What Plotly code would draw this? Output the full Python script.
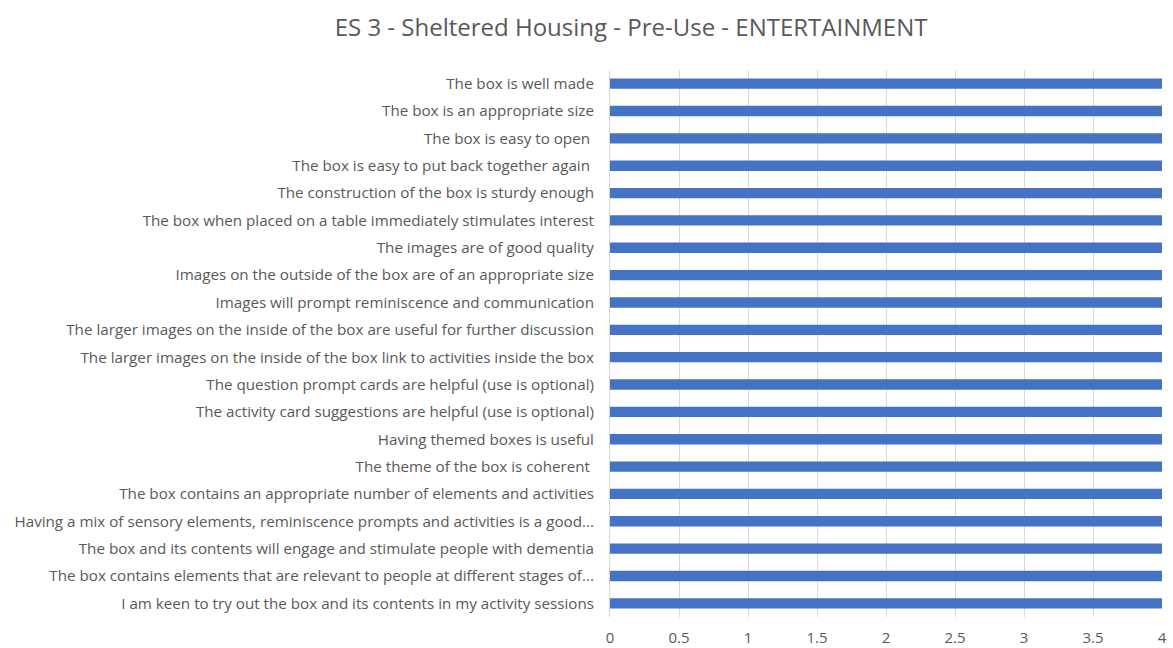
import plotly.graph_objects as go

categories = [
    "The box is well made",
    "The box is an appropriate size",
    "The box is easy to open ",
    "The box is easy to put back together again ",
    "The construction of the box is sturdy enough",
    "The box when placed on a table immediately stimulates interest",
    "The images are of good quality",
    "Images on the outside of the box are of an appropriate size",
    "Images will prompt reminiscence and communication",
    "The larger images on the inside of the box are useful for further discussion",
    "The larger images on the inside of the box link to activities inside the box",
    "The question prompt cards are helpful (use is optional)",
    "The activity card suggestions are helpful (use is optional)",
    "Having themed boxes is useful",
    "The theme of the box is coherent ",
    "The box contains an appropriate number of elements and activities",
    "Having a mix of sensory elements, reminiscence prompts and activities is a good...",
    "The box and its contents will engage and stimulate people with dementia",
    "The box contains elements that are relevant to people at different stages of...",
    "I am keen to try out the box and its contents in my activity sessions",
]
values = [4] * 20
x_ticks = [0, 0.5, 1, 1.5, 2, 2.5, 3, 3.5, 4]
x_ticktext = ["0", "0.5", "1", "1.5", "2", "2.5", "3", "3.5", "4"]

fig = go.Figure(go.Bar(
    y=categories, x=values, orientation="h",
    marker=dict(color="#4472C4", line=dict(width=0)),
    hoverinfo="x+y",
))

fig.update_layout(
    width=1173, height=648,
    margin=dict(l=610, r=11, t=70, b=31, autoexpand=False),
    paper_bgcolor="white", plot_bgcolor="white",
    title=dict(text="ES 3 - Sheltered Housing - Pre-Use - ENTERTAINMENT",
               x=0.538, xanchor="center", y=0.958, yanchor="middle",
               font=dict(family="Open Sans", size=24, color="#595959")),
    font=dict(family="Open Sans", size=15.2, color="#595959"),
    bargap=0.62,
    showlegend=False,
)
fig.update_xaxes(range=[0, 4], tickvals=x_ticks, ticktext=x_ticktext,
                 showgrid=True, gridcolor="#D9D9D9", gridwidth=1,
                 zeroline=False, showline=False, ticks="",
                 ticklabelstandoff=10, automargin=False,
                 tickfont=dict(size=15, color="#595959"))
fig.update_yaxes(autorange="reversed", showgrid=False, showline=True,
                 linecolor="#D9D9D9", linewidth=1, ticks="",
                 ticklabelstandoff=12, automargin=False)

fig.write_html("out.html")
